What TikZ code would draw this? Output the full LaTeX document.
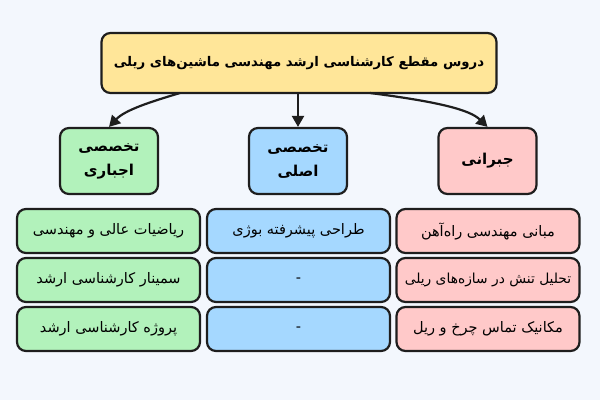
\documentclass[tikz,border=0pt]{standalone}
\usepackage{fontspec}
\TeXXeTstate=1
\newfontfamily\fa[Script=Arabic]{DejaVu Sans}
\usetikzlibrary{arrows.meta}
\definecolor{bgc}{HTML}{F3F7FD}
\definecolor{edgec}{HTML}{1E1E1E}
\definecolor{yel}{HTML}{FFE699}
\definecolor{grn}{HTML}{B2F2BB}
\definecolor{blu}{HTML}{A5D8FF}
\definecolor{red}{HTML}{FFC9C9}
\tikzset{
  box/.style={draw=edgec, line width=2.2pt, rounded corners=9pt, inner sep=0pt, align=center, font=\fa\fontsize{14.5}{17}\selectfont},
  catbox/.style={box, minimum width=98pt, minimum height=66pt, font=\fa\bfseries\fontsize{15}{24}\selectfont},
  rowbox/.style={box, minimum width=183pt, minimum height=44pt},
  conn/.style={draw=edgec, line width=2.2pt, -{Triangle[length=11pt,width=12pt]}},
}
\begin{document}
\begin{tikzpicture}[x=1pt,y=-1pt]
\fill[bgc] (0,0) rectangle (600,400);
\useasboundingbox (0,0) rectangle (600,400);
\node[box, fill=yel, minimum width=395pt, minimum height=60pt, font=\fa\bfseries\fontsize{13.3}{17}\selectfont] (top) at (299,63) {\beginR دروس مقطع کارشناسی ارشد مهندسی ماشین‌های ریلی\endR};
\node[catbox, fill=grn] (g) at (109,161) {\beginR تخصصی\endR\\\beginR اجباری\endR};
\node[catbox, fill=blu] (b) at (298,161) {\beginR تخصصی\endR\\\beginR اصلی\endR};
\node[catbox, fill=red] (r) at (487.5,161) {\beginR جبرانی\endR};
\node[rowbox, fill=grn] (g1) at (108.5,231) {\beginR ریاضیات عالی و مهندسی\endR};
\node[rowbox, fill=grn] (g2) at (108.5,280) {\beginR سمینار کارشناسی ارشد\endR};
\node[rowbox, fill=grn] (g3) at (108.5,329) {\beginR پروژه کارشناسی ارشد\endR};
\node[rowbox, fill=blu] (b1) at (298.5,231) {\beginR طراحی پیشرفته بوژی\endR};
\node[rowbox, fill=blu] (b2) at (298.5,280) {-};
\node[rowbox, fill=blu] (b3) at (298.5,329) {-};
\node[rowbox, fill=red] (r1) at (488,231) {\beginR مبانی مهندسی راه‌آهن\endR};
\node[rowbox, fill=red, font=\fa\fontsize{13.8}{17}\selectfont] (r2) at (488,280) {\beginR تحلیل تنش در سازه‌های ریلی\endR};
\node[rowbox, fill=red] (r3) at (488,329) {\beginR مکانیک تماس چرخ و ریل\endR};
\coordinate (tl) at (180,93);
\coordinate (tr) at (370,93);
\draw[conn] (tl) .. controls (150,102) and (125,110) .. (g.north);
\draw[conn] (top.south -| b.north) -- (b.north);
\draw[conn] (tr) .. controls (440,102) and (470,110) .. (r.north);
\end{tikzpicture}
\end{document}
